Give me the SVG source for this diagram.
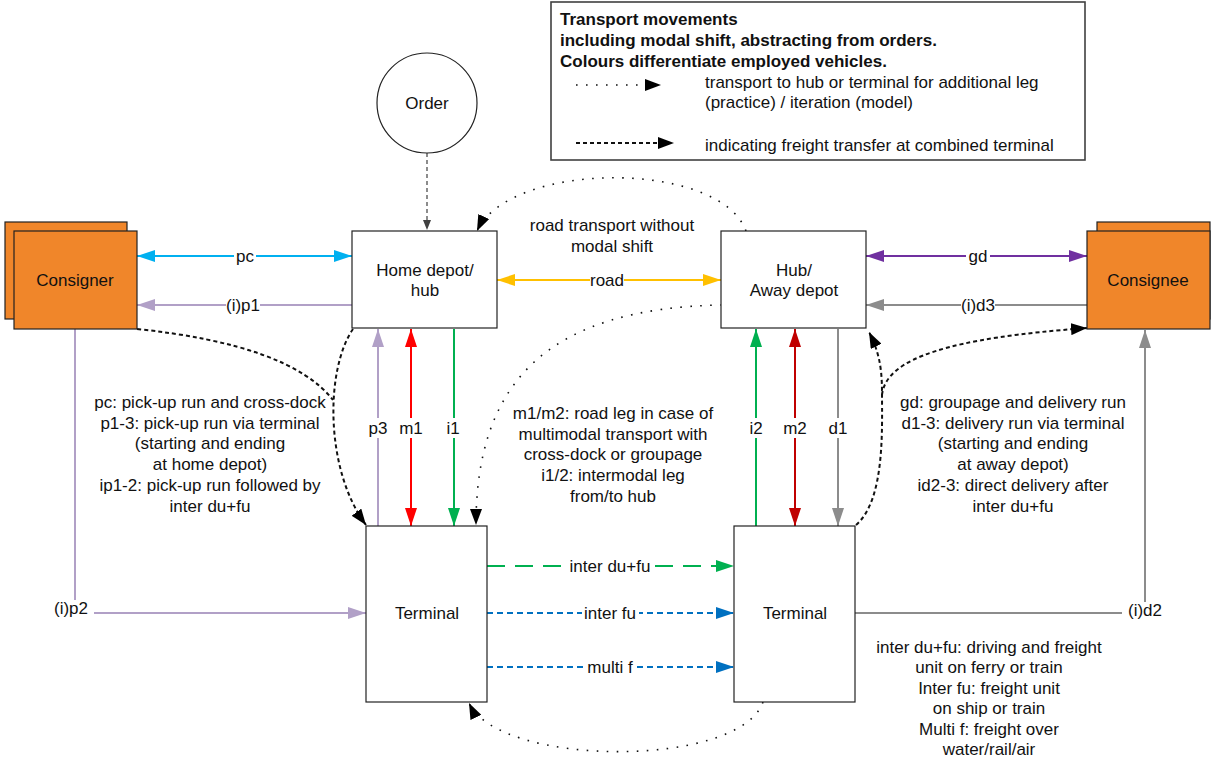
<svg xmlns="http://www.w3.org/2000/svg" width="1212" height="758" viewBox="0 0 1212 758">
  <style>
    text { font-family: "Liberation Sans", Arial, sans-serif; font-size: 17px; fill: #111; }
    .c { text-anchor: middle; }
    .b { font-weight: bold; }
    .box { fill: #fff; stroke: #222; stroke-width: 1.2; }
    .party { fill: #F0862A; stroke: #222; stroke-width: 1.2; }
    .ln { fill: none; stroke-width: 2; }
    .lbl { fill: #fff; stroke: none; }
    .dot { fill: none; stroke: #111; stroke-width: 1.6; stroke-dasharray: 1.6 8.4; stroke-linecap: butt; }
    .dash { fill: none; stroke: #111; stroke-width: 2; stroke-dasharray: 4 3; }
  </style>
  <defs>
    <marker id="aCyan" viewBox="0 0 18 12" refX="18" refY="6" markerWidth="18" markerHeight="12" markerUnits="userSpaceOnUse" orient="auto-start-reverse"><path d="M0,0 L18,6 L0,12 z" fill="#00B0F0"/></marker>
    <marker id="aLav" viewBox="0 0 18 12" refX="18" refY="6" markerWidth="18" markerHeight="12" markerUnits="userSpaceOnUse" orient="auto-start-reverse"><path d="M0,0 L18,6 L0,12 z" fill="#B1A0C7"/></marker>
    <marker id="aPur" viewBox="0 0 18 12" refX="18" refY="6" markerWidth="18" markerHeight="12" markerUnits="userSpaceOnUse" orient="auto-start-reverse"><path d="M0,0 L18,6 L0,12 z" fill="#7030A0"/></marker>
    <marker id="aGray" viewBox="0 0 18 12" refX="18" refY="6" markerWidth="18" markerHeight="12" markerUnits="userSpaceOnUse" orient="auto-start-reverse"><path d="M0,0 L18,6 L0,12 z" fill="#8C8C8C"/></marker>
    <marker id="aYel" viewBox="0 0 18 12" refX="18" refY="6" markerWidth="18" markerHeight="12" markerUnits="userSpaceOnUse" orient="auto-start-reverse"><path d="M0,0 L18,6 L0,12 z" fill="#FFC000"/></marker>
    <marker id="aRed" viewBox="0 0 18 12" refX="18" refY="6" markerWidth="18" markerHeight="12" markerUnits="userSpaceOnUse" orient="auto-start-reverse"><path d="M0,0 L18,6 L0,12 z" fill="#FF0000"/></marker>
    <marker id="aDRed" viewBox="0 0 18 12" refX="18" refY="6" markerWidth="18" markerHeight="12" markerUnits="userSpaceOnUse" orient="auto-start-reverse"><path d="M0,0 L18,6 L0,12 z" fill="#C00000"/></marker>
    <marker id="aGrn" viewBox="0 0 18 12" refX="18" refY="6" markerWidth="18" markerHeight="12" markerUnits="userSpaceOnUse" orient="auto-start-reverse"><path d="M0,0 L18,6 L0,12 z" fill="#00B050"/></marker>
    <marker id="aBlue" viewBox="0 0 18 12" refX="18" refY="6" markerWidth="18" markerHeight="12" markerUnits="userSpaceOnUse" orient="auto-start-reverse"><path d="M0,0 L18,6 L0,12 z" fill="#0070C0"/></marker>
    <marker id="aBlk" viewBox="0 0 16 12" refX="16" refY="6" markerWidth="16" markerHeight="12" markerUnits="userSpaceOnUse" orient="auto"><path d="M0,0 L16,6 L0,12 z" fill="#000"/></marker>
    <marker id="aOrd" viewBox="0 0 10 8" refX="10" refY="4" markerWidth="10" markerHeight="8" markerUnits="userSpaceOnUse" orient="auto"><path d="M0,0 L10,4 L0,8 z" fill="#404040"/></marker>
  </defs>

  <!-- legend -->
  <g id="legend">
    <rect x="551" y="2" width="534" height="158" fill="#fff" stroke="#404040" stroke-width="1.6"/>
    <text class="b" x="560" y="25">Transport movements</text>
    <text class="b" x="560" y="46">including modal shift, abstracting from orders.</text>
    <text class="b" x="560" y="67">Colours differentiate employed vehicles.</text>
    <path class="dot" d="M576,85 H661" marker-end="url(#aBlk)"/>
    <text x="705" y="88">transport to hub or terminal for additional leg</text>
    <text x="705" y="108">(practice) / iteration (model)</text>
    <path class="dash" d="M576,143 H674" stroke-dasharray="3 2" marker-end="url(#aBlk)"/>
    <text x="705" y="151">indicating freight transfer at combined terminal</text>
  </g>

  <!-- connectors -->
  <g id="connectors">
    <path d="M427,153 V230" fill="none" stroke="#404040" stroke-width="1.2" stroke-dasharray="4 3" marker-end="url(#aOrd)"/>

    <path class="ln" d="M137,256 H352" stroke="#00B0F0" marker-start="url(#aCyan)" marker-end="url(#aCyan)"/>
    <path class="ln" d="M352,305 H137" stroke="#B1A0C7" marker-end="url(#aLav)"/>
    <path class="ln" d="M497,280 H721" stroke="#FFC000" marker-start="url(#aYel)" marker-end="url(#aYel)"/>
    <path class="ln" d="M866,256 H1087" stroke="#7030A0" marker-start="url(#aPur)" marker-end="url(#aPur)"/>
    <path class="ln" d="M1087,305 H866" stroke="#8C8C8C" marker-end="url(#aGray)"/>

    <path class="ln" d="M378,526 V329" stroke="#B1A0C7" marker-end="url(#aLav)"/>
    <path class="ln" d="M411,526 V329" stroke="#FF0000" marker-start="url(#aRed)" marker-end="url(#aRed)"/>
    <path class="ln" d="M454,329 V526" stroke="#00B050" marker-end="url(#aGrn)"/>
    <path class="ln" d="M756,526 V329" stroke="#00B050" marker-end="url(#aGrn)"/>
    <path class="ln" d="M795,526 V329" stroke="#C00000" marker-start="url(#aDRed)" marker-end="url(#aDRed)"/>
    <path class="ln" d="M838,329 V526" stroke="#8C8C8C" marker-end="url(#aGray)"/>

    <path class="ln" d="M487,566 H734" stroke="#00B050" stroke-dasharray="18 10" marker-end="url(#aGrn)"/>
    <path class="ln" d="M487,613 H734" stroke="#0070C0" stroke-dasharray="6 4" marker-end="url(#aBlue)"/>
    <path class="ln" d="M487,667 H734" stroke="#0070C0" stroke-dasharray="6 4" marker-end="url(#aBlue)"/>

    <path class="ln" d="M75,329 V613 H366" stroke="#B1A0C7" marker-end="url(#aLav)"/>
    <path class="ln" d="M855,613 H1145 V330" stroke="#8C8C8C" marker-end="url(#aGray)"/>

    <!-- freight transfer at combined terminal -->
    <path class="dash" d="M353,329 C325,370 325,470 366,525" marker-end="url(#aBlk)"/>
    <path class="dash" d="M137,329 Q290,345 333,400"/>
    <path class="dash" d="M856,525 C885,500 882,430 882,392 C882,365 878,350 869,332" marker-end="url(#aBlk)"/>
    <path class="dash" d="M882,395 C886,358 950,338 1087,328" marker-end="url(#aBlk)"/>

    <!-- additional legs -->
    <path class="dot" d="M746,231 C720,160 510,160 477,231" marker-end="url(#aBlk)"/>
    <path class="dot" d="M722,305 C550,308 476,380 476,525" marker-end="url(#aBlk)"/>
    <path class="dot" d="M763,702 C740,768 500,768 469,703" marker-end="url(#aBlk)"/>

    <!-- connector labels -->
    <rect class="lbl" x="234" y="248" width="22" height="16"/>
    <text class="c" x="245" y="262">pc</text>
    <rect class="lbl" x="226" y="297" width="34" height="16"/>
    <text class="c" x="243" y="311">(i)p1</text>
    <rect class="lbl" x="590" y="272" width="34" height="16"/>
    <text class="c" x="607" y="286">road</text>
    <rect class="lbl" x="966" y="248" width="24" height="16"/>
    <text class="c" x="978" y="262">gd</text>
    <rect class="lbl" x="961" y="297" width="34" height="16"/>
    <text class="c" x="978" y="311">(i)d3</text>

    <rect class="lbl" x="367" y="418" width="22" height="20"/>
    <text class="c" x="378" y="434">p3</text>
    <rect class="lbl" x="399" y="418" width="25" height="20"/>
    <text class="c" x="411" y="434">m1</text>
    <rect class="lbl" x="445" y="418" width="17" height="20"/>
    <text class="c" x="453" y="434">i1</text>
    <rect class="lbl" x="747" y="418" width="17" height="20"/>
    <text class="c" x="756" y="434">i2</text>
    <rect class="lbl" x="783" y="418" width="25" height="20"/>
    <text class="c" x="795" y="434">m2</text>
    <rect class="lbl" x="827" y="418" width="22" height="20"/>
    <text class="c" x="838" y="434">d1</text>

    <rect class="lbl" x="568" y="558" width="85" height="16"/>
    <text class="c" x="610" y="572">inter du+fu</text>
    <rect class="lbl" x="582" y="605" width="57" height="16"/>
    <text class="c" x="610" y="619">inter fu</text>
    <rect class="lbl" x="586" y="659" width="49" height="16"/>
    <text class="c" x="610" y="673">multi f</text>

    <rect class="lbl" x="48" y="600" width="46" height="18"/>
    <text class="c" x="71" y="614">(i)p2</text>
    <rect class="lbl" x="1122" y="602" width="46" height="18"/>
    <text class="c" x="1145" y="616">(i)d2</text>
  </g>

  <!-- nodes -->
  <g id="order">
    <circle cx="427" cy="103" r="50" fill="#fff" stroke="#222" stroke-width="1.2"/>
    <text class="c" x="427" y="109">Order</text>
  </g>
  <g id="home-depot">
    <rect class="box" x="352" y="231" width="145" height="97"/>
    <text class="c" x="425" y="276">Home depot/</text>
    <text class="c" x="425" y="296">hub</text>
  </g>
  <g id="away-depot">
    <rect class="box" x="721" y="231" width="145" height="97"/>
    <text class="c" x="794" y="276">Hub/</text>
    <text class="c" x="794" y="296">Away depot</text>
  </g>
  <g id="consigner">
    <rect class="party" x="5" y="222" width="122" height="97"/>
    <rect class="party" x="14" y="231" width="123" height="98"/>
    <text class="c" x="75" y="286">Consigner</text>
  </g>
  <g id="consignee">
    <rect class="party" x="1097" y="222" width="113" height="97"/>
    <rect class="party" x="1087" y="231" width="123" height="98"/>
    <text class="c" x="1148" y="286">Consignee</text>
  </g>
  <g id="terminal-left">
    <rect class="box" x="366" y="526" width="121" height="176"/>
    <text class="c" x="427" y="619">Terminal</text>
  </g>
  <g id="terminal-right">
    <rect class="box" x="734" y="526" width="121" height="176"/>
    <text class="c" x="795" y="619">Terminal</text>
  </g>

  <!-- explanatory notes -->
  <g id="notes">
    <text class="c" x="612" y="231">road transport without</text>
    <text class="c" x="612" y="252">modal shift</text>

    <text class="c" x="210" y="408">pc: pick-up run and cross-dock</text>
    <text class="c" x="210" y="428.7">p1-3: pick-up run via terminal</text>
    <text class="c" x="210" y="449.4">(starting and ending</text>
    <text class="c" x="210" y="470.1">at home depot)</text>
    <text class="c" x="210" y="490.8">ip1-2: pick-up run followed by</text>
    <text class="c" x="210" y="511.5">inter du+fu</text>

    <text class="c" x="613" y="419">m1/m2: road leg in case of</text>
    <text class="c" x="613" y="439.7">multimodal transport with</text>
    <text class="c" x="613" y="460.4">cross-dock or groupage</text>
    <text class="c" x="613" y="481.1">i1/2: intermodal leg</text>
    <text class="c" x="613" y="501.8">from/to hub</text>

    <text class="c" x="1013" y="408">gd: groupage and delivery run</text>
    <text class="c" x="1013" y="428.7">d1-3: delivery run via terminal</text>
    <text class="c" x="1013" y="449.4">(starting and ending</text>
    <text class="c" x="1013" y="470.1">at away depot)</text>
    <text class="c" x="1013" y="490.8">id2-3: direct delivery after</text>
    <text class="c" x="1013" y="511.5">inter du+fu</text>

    <text class="c" x="989" y="653">inter du+fu: driving and freight</text>
    <text class="c" x="989" y="673.4">unit on ferry or train</text>
    <text class="c" x="989" y="693.8">Inter fu: freight unit</text>
    <text class="c" x="989" y="714.2">on ship or train</text>
    <text class="c" x="989" y="734.6">Multi f: freight over</text>
    <text class="c" x="989" y="755">water/rail/air</text>
  </g>
</svg>
